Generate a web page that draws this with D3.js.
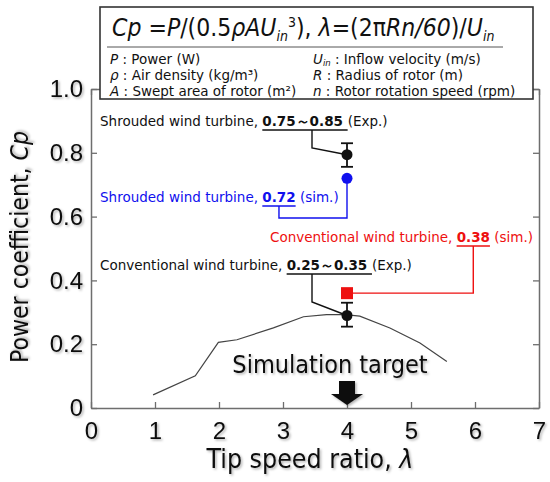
<!DOCTYPE html>
<html>
<head>
<meta charset="utf-8">
<script src="https://cdn.jsdelivr.net/npm/d3@7"></script>
<style>
  body { margin: 0; background: #fff; }
  svg { display: block; font-family: "DejaVu Sans Condensed", "DejaVu Sans", sans-serif; }
  .small { font-family: "DejaVu Sans", sans-serif; white-space: pre; }
</style>
</head>
<body>
<svg id="chart" width="550" height="482"></svg>
<script>
// Cp curve of the conventional turbine (thin line)
const curveTsr = [0.97, 1.63, 1.99, 2.28, 2.85, 3.32, 3.68, 3.97, 4.2, 4.67, 5.14, 5.56];
const curveCp = [0.041, 0.101, 0.206, 0.214, 0.251, 0.286, 0.293, 0.293, 0.288, 0.251, 0.204, 0.146];

// experiment points with error bars (black)
const expNames = ['shrouded', 'conventional'];
const expTsr = [4, 4];
const expCp = [0.794, 0.29];
const expLow = [0.756, 0.255];
const expHigh = [0.83, 0.33];

// simulation points
const simNames = ['shrouded', 'conventional'];
const simTsr = [4, 4];
const simCp = [0.72, 0.36];

const xTicks = [0, 1, 2, 3, 4, 5, 6, 7];
const yTicks = [0, 0.2, 0.4, 0.6, 0.8, 1.0];
const targetTsr = 4;

const svg = d3.select('#chart');
const x = d3.scaleLinear().domain([0, 7]).range([91, 539]);
const y = d3.scaleLinear().domain([0, 1]).range([408, 89]);

// soft drop shadow like the original figure
const defs = svg.append('defs');
const f = defs.append('filter').attr('id', 'shadow').attr('x', '-10%').attr('y', '-10%').attr('width', '130%').attr('height', '140%');
f.append('feDropShadow').attr('dx', 1.5).attr('dy', 1.5).attr('stdDeviation', 1)
  .attr('flood-color', '#000').attr('flood-opacity', 0.3);

// frame + inward ticks
function styleAxis(g) {
  g.selectAll('.domain').attr('stroke', '#6e6e6e').attr('stroke-width', 1.5);
  g.selectAll('.tick line').attr('stroke', '#6e6e6e').attr('stroke-width', 1.3);
  g.selectAll('.tick text').attr('fill', '#111').style('font-size', '24px').attr('filter', 'url(#shadow)');
}
svg.append('g').attr('transform', 'translate(0,89)')
  .call(d3.axisTop(x).tickValues(xTicks).tickSize(-6).tickFormat('').tickSizeOuter(0))
  .call(styleAxis);
svg.append('g').attr('transform', 'translate(539,0)')
  .call(d3.axisRight(y).tickValues(yTicks).tickSize(-6).tickFormat('').tickSizeOuter(0))
  .call(styleAxis);
svg.append('g').attr('transform', 'translate(0,408)')
  .call(d3.axisBottom(x).tickValues(xTicks).tickSize(-6).tickPadding(14).tickSizeOuter(0)
    .tickFormat(d3.format('d')))
  .call(styleAxis);
svg.append('g').attr('transform', 'translate(91,0)')
  .call(d3.axisLeft(y).tickValues(yTicks).tickSize(-6).tickPadding(8).tickSizeOuter(0)
    .tickFormat(d => d === 0 ? '0' : d3.format('.1f')(d)))
  .call(styleAxis);

// axis titles
const yTitle = svg.append('text').attr('transform', 'translate(28,247) rotate(-90)')
  .attr('text-anchor', 'middle').style('font-size', '24.5px').attr('fill', '#111').attr('filter', 'url(#shadow)');
yTitle.append('tspan').text('Power coefficient, ');
yTitle.append('tspan').style('font-style', 'italic').text('Cp');

const xTitle = svg.append('text').attr('x', 310).attr('y', 468)
  .attr('text-anchor', 'middle').style('font-size', '26.5px').attr('fill', '#111').attr('filter', 'url(#shadow)');
xTitle.append('tspan').text('Tip speed ratio, ');
xTitle.append('tspan').style('font-style', 'italic').text('λ');

// curve
const line = d3.line().x(d => x(d[0])).y(d => y(d[1]));
svg.append('path').datum(d3.zip(curveTsr, curveCp))
  .attr('d', line).attr('fill', 'none').attr('stroke', '#444').attr('stroke-width', 1.2);

// simulation target text + arrow
svg.append('text').attr('x', x(targetTsr) - 17).attr('y', 373).attr('text-anchor', 'middle')
  .style('font-size', '25px').attr('fill', '#111').attr('filter', 'url(#shadow)')
  .text('Simulation target');
const ax = x(targetTsr), ay = y(0);
svg.append('path')
  .attr('d', `M${ax - 8},${ay - 27} H${ax + 8} V${ay - 14} H${ax + 16} L${ax},${ay - 3} L${ax - 16},${ay - 14} H${ax - 8} Z`)
  .attr('fill', '#111').attr('filter', 'url(#shadow)');

// labels built from pieces so underline / connector can follow the text
function label(xPos, yPos, anchor, color, parts) {
  const g = svg.append('g');
  let cx = 0, under = null;
  parts.forEach(p => {
    const t = g.append('text').attr('class', 'small').attr('x', cx).attr('y', 0).attr('fill', color)
      .style('font-size', '13.5px').style('font-weight', p.bold ? 'bold' : 'normal').text(p.t);
    const w = t.node().getComputedTextLength();
    if (p.under) under = [cx, cx + w];
    cx += w;
  });
  const x0 = anchor === 'end' ? xPos - cx : xPos;
  g.attr('transform', `translate(${x0},${yPos})`);
  g.append('line').attr('x1', under[0]).attr('x2', under[1]).attr('y1', 4).attr('y2', 4)
    .attr('stroke', color).attr('stroke-width', 1.6);
  return {x: x0 + (under[0] + under[1]) / 2, y: yPos + 4};
}

const lShrExp = label(100, 126, 'start', '#111', [
  {t: 'Shrouded wind turbine, '}, {t: '0.75～0.85 ', bold: true, under: true}, {t: '(Exp.)'}]);
const lShrSim = label(100, 202, 'start', '#1010ee', [
  {t: 'Shrouded wind turbine, '}, {t: '0.72', bold: true, under: true}, {t: ' (sim.)'}]);
const lConSim = label(533, 242, 'end', '#ee1010', [
  {t: 'Conventional wind turbine, '}, {t: '0.38', bold: true, under: true}, {t: ' (sim.)'}]);
const lConExp = label(100, 270, 'start', '#111', [
  {t: 'Conventional wind turbine, '}, {t: '0.25～0.35 ', bold: true, under: true}, {t: '(Exp.)'}]);

// connectors (both experiment leaders drop from the same x)
const expLeadX = 312;
const conn = (pts, color) => svg.append('polyline').attr('points', pts.map(p => p.join(',')).join(' '))
  .attr('fill', 'none').attr('stroke', color).attr('stroke-width', 1.4);
conn([[expLeadX, lShrExp.y], [expLeadX, 148], [x(expTsr[0]), y(expCp[0])]], '#111');
conn([[expLeadX, lConExp.y], [expLeadX, 302], [x(expTsr[1]), y(expCp[1])]], '#111');
conn([[lShrSim.x, lShrSim.y], [lShrSim.x, 218], [x(simTsr[0]), 218], [x(simTsr[0]), y(simCp[0])]], '#1010ee');
conn([[lConSim.x, lConSim.y], [lConSim.x, y(simCp[1])], [x(simTsr[1]), y(simCp[1])]], '#ee1010');

// error bars + experiment markers
expNames.forEach((n, i) => {
  const cx = x(expTsr[i]);
  const g = svg.append('g').attr('stroke', '#111').attr('stroke-width', 1.8);
  g.append('line').attr('x1', cx).attr('x2', cx).attr('y1', y(expHigh[i])).attr('y2', y(expLow[i]));
  [expHigh[i], expLow[i]].forEach(v => g.append('line')
    .attr('x1', cx - 6).attr('x2', cx + 6).attr('y1', y(v)).attr('y2', y(v)));
  svg.append('circle').attr('cx', cx).attr('cy', y(expCp[i])).attr('r', 5.5).attr('fill', '#111');
});

// simulation markers
svg.append('circle').attr('cx', x(simTsr[0])).attr('cy', y(simCp[0])).attr('r', 5.5).attr('fill', '#1010ee');
svg.append('rect').attr('x', x(simTsr[1]) - 6).attr('y', y(simCp[1]) - 6)
  .attr('width', 12).attr('height', 12).attr('fill', '#ee1010');

// formula box
const box = svg.append('g');
box.append('rect').attr('x', 100).attr('y', 7).attr('width', 433).attr('height', 92)
  .attr('fill', '#fff').attr('stroke', '#333').attr('stroke-width', 1.6);
box.append('line').attr('x1', 107).attr('x2', 503).attr('y1', 47).attr('y2', 47)
  .attr('stroke', '#555').attr('stroke-width', 1);

const fm = box.append('text').attr('x', 112).attr('y', 36).style('font-size', '24.5px')
  .style('white-space', 'pre').attr('fill', '#111');
const seg = (t, it, sh, fs) => {
  const s = fm.append('tspan').text(t);
  if (it) s.style('font-style', 'italic');
  if (sh) s.attr('dy', sh);
  if (fs) s.style('font-size', fs);
  return s;
};
seg('Cp', true); seg(' =', false); seg('P', true); seg('/(0.5', false); seg('ρAU', true);
seg('in', true, 5, '14px'); seg('3', false, -14, '14px'); seg('), ', false, 9);
seg('λ', true); seg('=(2π', false); seg('Rn/60', true); seg(')/', false); seg('U', true);
seg('in', true, 5, '14px');

const rowsLeft = [['P', ' : Power (W)'], ['ρ', ' : Air density (kg/m³)'], ['A', ' : Swept area of rotor (m²)']];
const rowsRight = [['U', ' : Inflow velocity (m/s)'], ['R', ' : Radius of rotor (m)'], ['n', ' : Rotor rotation speed (rpm)']];
const rowY = [64, 80, 95.5];
rowsLeft.forEach((r, i) => {
  const t = box.append('text').attr('class', 'small').attr('x', 110).attr('y', rowY[i])
    .style('font-size', '13.5px').attr('fill', '#111');
  t.append('tspan').style('font-style', 'italic').text(r[0]);
  t.append('tspan').text(r[1]);
});
rowsRight.forEach((r, i) => {
  const t = box.append('text').attr('class', 'small').attr('x', 313).attr('y', rowY[i])
    .style('font-size', '13.5px').attr('fill', '#111');
  t.append('tspan').style('font-style', 'italic').text(r[0]);
  if (i === 0) {
    t.append('tspan').style('font-style', 'italic').style('font-size', '8.5px').attr('dy', 2).text('in');
    t.append('tspan').attr('dy', -2).text(r[1]);
  } else t.append('tspan').text(r[1]);
});
</script>
</body>
</html>
